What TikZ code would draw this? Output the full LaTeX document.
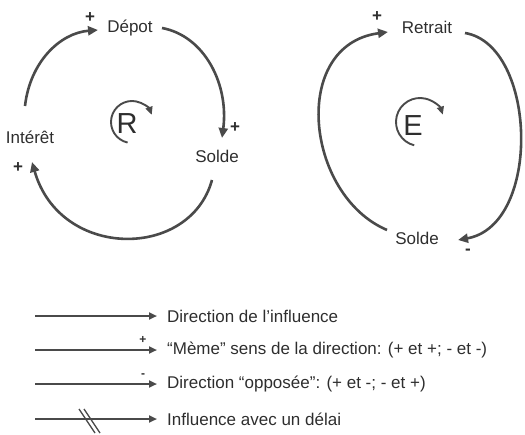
\documentclass[tikz,border=0pt]{standalone}
\usepackage{fontspec}
\setmainfont{Liberation Sans}
\usetikzlibrary{arrows.meta}
\definecolor{ink}{HTML}{2E2E2E}
\definecolor{linec}{HTML}{4A4A4A}
\begin{document}
\begin{tikzpicture}[x=1pt,y=-1pt,
  lbl/.style={font=\fontsize{17}{19}\selectfont, text=ink, inner sep=0pt},
  big/.style={font=\fontsize{29}{32}\selectfont, text=ink, inner sep=0pt},
  sgn/.style={font=\fontsize{17}{17}\selectfont\bfseries, text=ink, inner sep=0pt},
  lsgn/.style={font=\fontsize{12}{12}\selectfont\bfseries, text=ink, inner sep=0pt},
  link/.style={draw=linec, line width=2.6pt, -{Triangle[length=10pt,width=9pt]}},
  leg/.style={draw=linec, line width=2pt, -{Triangle[length=8pt,width=7pt]}},
  loopar/.style={draw=linec, line width=1.9pt, -{Triangle[length=8pt,width=7pt]}},
  delay/.style={draw=linec, line width=1.3pt},
]
\useasboundingbox (0,0) rectangle (525,434);

% ---- left loop (R)
\node[lbl] (depot)   at (130,28)  {Dépot};
\node[lbl] (interet) at (30,137)  {Intérêt};
\node[lbl] (soldeA)  at (217,156) {Solde};
\node[big] (R)       at (127,124) {R};
\node[sgn] (pA) at (90,18)   {+};
\node[sgn] (pB) at (235,128) {+};
\node[sgn] (pC) at (18,168)  {+};

\coordinate (a1s) at (25,106);  \coordinate (a1e) at (98,30);
\coordinate (a2s) at (162,28);  \coordinate (a2e) at (222,138);
\coordinate (a3s) at (212,180); \coordinate (a3e) at (32,162);
\draw[link] (a1s) .. controls (30,62) and (60,33) .. (a1e);
\draw[link] (a2s) .. controls (205,36) and (229,85) .. (a2e);
\draw[link] (a3s) .. controls (190,260) and (60,260) .. (a3e);

\coordinate (Rc) at (132,122);
\draw[loopar] ([shift={(258:21pt)}]Rc) arc[start angle=258, end angle=20, radius=21pt];

% ---- right loop (E)
\node[lbl] (retrait) at (427,27)  {Retrait};
\node[lbl] (soldeB)  at (417,238) {Solde};
\node[big] (E)       at (413,126) {E};
\node[sgn] (pD) at (377,17)  {+};
\node[sgn] (mA) at (468,252) {-};

\coordinate (b1s) at (387,230); \coordinate (b1e) at (388,32);
\coordinate (b2s) at (465,33);  \coordinate (b2e) at (458,240);
\draw[link] (b1s) .. controls (305,195) and (290,45) .. (b1e);
\draw[link] (b2s) .. controls (537,45) and (542,225) .. (b2e);

\coordinate (Ec) at (420,122);
\draw[loopar] ([shift={(256:24pt)}]Ec) arc[start angle=256, end angle=18, radius=24pt];

% ---- legend
\coordinate (l1s) at (35,316); \coordinate (l1e) at (157,316);
\coordinate (l2s) at (35,350); \coordinate (l2e) at (157,350);
\coordinate (l3s) at (35,384); \coordinate (l3e) at (157,384);
\coordinate (l4s) at (35,419); \coordinate (l4e) at (157,419);
\draw[leg] (l1s) -- (l1e);
\draw[leg] (l2s) -- (l2e);
\draw[leg] (l3s) -- (l3e);
\draw[leg] (l4s) -- (l4e);
\node[lsgn] (lp) at (143,340) {+};
\node[lsgn] (lm) at (143,376) {-};
\draw[delay] (79,409) -- (95,433);
\draw[delay] (84,409) -- (100,433);

\node[lbl, anchor=west] (t1) at (167,316) {Direction de l'influence};
\node[lbl, anchor=west] (t2) at (167,350) {“Mème” sens de la direction: (+ et +; - et -)};
\node[lbl, anchor=west] (t3) at (167,384) {Direction “opposée”: (+ et -; - et +)};
\node[lbl, anchor=west] (t4) at (167,419) {Influence avec un délai};
\end{tikzpicture}
\end{document}
